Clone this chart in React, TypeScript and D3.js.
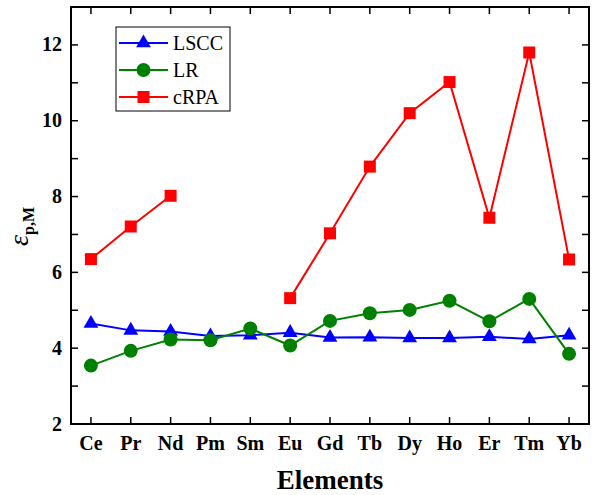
import React from "react";
import * as d3 from "d3";

const categories = ["Ce", "Pr", "Nd", "Pm", "Sm", "Eu", "Gd", "Tb", "Dy", "Ho", "Er", "Tm", "Yb"];
const lscc = [4.65, 4.47, 4.44, 4.32, 4.34, 4.41, 4.28, 4.29, 4.27, 4.27, 4.30, 4.24, 4.34];
const lr = [3.54, 3.93, 4.23, 4.21, 4.52, 4.07, 4.72, 4.92, 5.01, 5.25, 4.71, 5.30, 3.85];
const crpa: (number | null)[] = [6.35, 7.21, 8.02, null, null, 5.32, 7.03, 8.79, 10.2, 11.02, 7.44, 11.8, 6.34];
const yTicks = [2, 4, 6, 8, 10, 12];
const yMinorTicks = [3, 5, 7, 9, 11];

const W = 599, H = 495;
const L = 71, R = 589, T = 7, B = 424;
const FONT = "'Liberation Serif', 'Times New Roman', serif";

export default function App() {
  const x = d3.scaleLinear().domain([0.5, 13.5]).range([L, R]);
  const y = d3.scaleLinear().domain([2, 13]).range([B, T]);
  const xi = (i: number) => x(i + 1);

  const lineGen = d3
    .line<number | null>()
    .defined((d) => d !== null)
    .x((_, i) => xi(i))
    .y((d) => y(d as number));

  const tri = d3.symbol().type(d3.symbolTriangle).size(95)() as string;
  const sq = d3.symbol().type(d3.symbolSquare).size(144)() as string;

  const series = [
    { name: "LSCC", data: lscc as (number | null)[], color: "#0000ff", marker: "tri" },
    { name: "LR", data: lr as (number | null)[], color: "#008000", marker: "circle" },
    { name: "cRPA", data: crpa, color: "#ff0000", marker: "sq" },
  ];

  const marker = (m: string, color: string, cx: number, cy: number, key: string) => {
    if (m === "circle") return <circle key={key} cx={cx} cy={cy} r={7} fill={color} />;
    if (m === "tri") return <path key={key} d={tri} transform={`translate(${cx},${cy})`} fill={color} />;
    return <path key={key} d={sq} transform={`translate(${cx},${cy})`} fill={color} />;
  };

  const tickLen = 7;

  return (
    <svg width={W} height={H} style={{ position: "absolute", left: 0, top: 0, background: "#fff" }}>
      {series.map((s) => (
        <path key={s.name} d={lineGen(s.data) as string} fill="none" stroke={s.color} strokeWidth={2} />
      ))}
      {series.map((s) =>
        s.data.map((d, i) => (d === null ? null : marker(s.marker, s.color, xi(i), y(d), `${s.name}-${i}`)))
      )}

      <rect x={L} y={T} width={R - L} height={B - T} fill="none" stroke="#000" strokeWidth={2} />

      {categories.map((c, i) => (
        <g key={c}>
          <line x1={xi(i)} x2={xi(i)} y1={B} y2={B - tickLen} stroke="#000" strokeWidth={1.5} />
          <line x1={xi(i)} x2={xi(i)} y1={T} y2={T + tickLen} stroke="#000" strokeWidth={1.5} />
          <text x={xi(i)} y={450} textAnchor="middle" fontFamily={FONT} fontWeight="bold" fontSize={20}>
            {c}
          </text>
        </g>
      ))}

      {yTicks.concat(yMinorTicks).map((t) => (
        <g key={t}>
          <line x1={L} x2={L + tickLen} y1={y(t)} y2={y(t)} stroke="#000" strokeWidth={1.5} />
          <line x1={R} x2={R - tickLen} y1={y(t)} y2={y(t)} stroke="#000" strokeWidth={1.5} />
        </g>
      ))}
      {yTicks.map((t) => (
        <text key={`l${t}`} x={62} y={y(t) + 6.5} textAnchor="end" fontFamily={FONT} fontWeight="bold" fontSize={20}>
          {t}
        </text>
      ))}

      <text x={(L + R) / 2} y={489} textAnchor="middle" fontFamily={FONT} fontWeight="bold" fontSize={27}>
        Elements
      </text>
      <text transform="translate(28,246) rotate(-90)" fontFamily={FONT}>
        <tspan fontStyle="italic" fontSize={28}>ε</tspan>
        <tspan fontWeight="bold" fontSize={16} dy={6}>p,M</tspan>
      </text>

      <rect x={116} y={27} width={114} height={84} fill="#fff" stroke="#000" strokeWidth={1} />
      {series.map((s, i) => {
        const cy = 43 + i * 27;
        return (
          <g key={`leg-${s.name}`}>
            <line x1={119} x2={168} y1={cy} y2={cy} stroke={s.color} strokeWidth={2} />
            {marker(s.marker, s.color, 143.5, cy, `lm-${s.name}`)}
            <text x={173} y={cy + 7} fontFamily={FONT} fontSize={20}>
              {s.name}
            </text>
          </g>
        );
      })}
    </svg>
  );
}
